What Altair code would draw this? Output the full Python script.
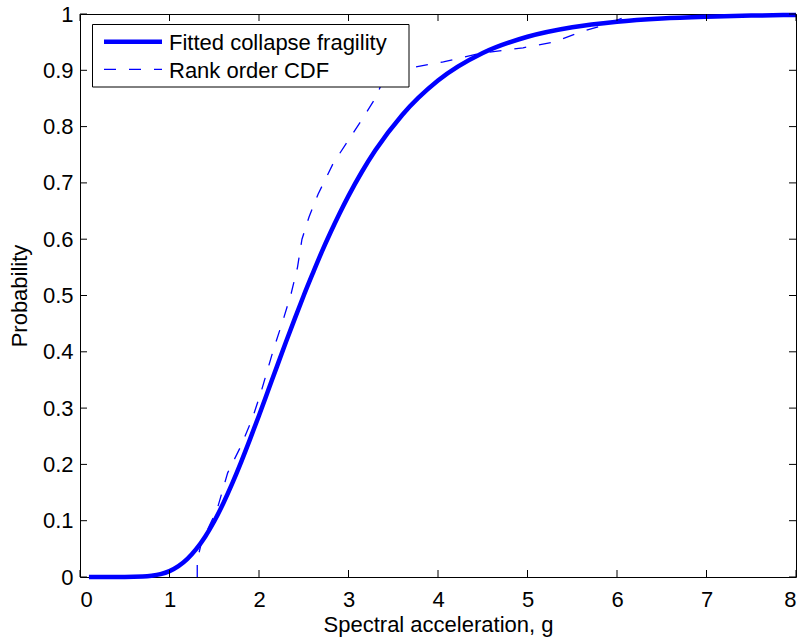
import altair as alt
import pandas as pd

# Fitted collapse fragility
fit_x = [0.1, 0.3, 0.5, 0.7, 0.8, 0.9, 1.0, 1.1, 1.2, 1.3, 1.4, 1.5, 1.6, 1.7, 1.8, 1.9,
         2.0, 2.1, 2.2, 2.3, 2.4, 2.5, 2.6, 2.7, 2.8, 2.9, 3.0, 3.15, 3.3, 3.6, 4.0, 4.5,
         5.0, 5.5, 6.0, 6.5, 7.0, 7.5, 8.0]
fit_y = [0.0, 0.0, 0.0, 0.0007, 0.0021, 0.005, 0.0105, 0.0193, 0.0322, 0.0498, 0.0721, 0.0991,
         0.1305, 0.1657, 0.204, 0.2448, 0.287, 0.3303, 0.3737, 0.4168, 0.459, 0.5, 0.539,
         0.577, 0.6123, 0.6457, 0.677, 0.7198, 0.7578, 0.8207, 0.8818, 0.9307, 0.9596, 0.9765,
         0.9863, 0.992, 0.9952, 0.9972, 0.9983]

# Rank order CDF
cdf_x = [1.31, 1.31, 1.36, 1.53, 1.65, 1.79, 1.92, 2.02, 2.16, 2.28, 2.36, 2.43, 2.48, 2.56,
         2.66, 2.83, 3.00, 3.16, 3.31, 3.43, 3.72, 4.06, 4.47, 4.95, 5.29, 5.59, 5.85, 6.18]
cdf_y = [0.0, 0.03, 0.063, 0.119, 0.185, 0.23, 0.279, 0.327, 0.403, 0.462, 0.504, 0.55, 0.60,
         0.64, 0.68, 0.735, 0.776, 0.815, 0.853, 0.90, 0.905, 0.915, 0.93, 0.94, 0.95, 0.968,
         0.98, 1.0]

x_ticks = [0, 1, 2, 3, 4, 5, 6, 7, 8]
y_ticks = [0, 0.1, 0.2, 0.3, 0.4, 0.5, 0.6, 0.7, 0.8, 0.9, 1.0]
legend_labels = ["Fitted collapse fragility", "Rank order CDF"]

W, H = 716, 563
BLUE = "#0000ff"
FONT = "Liberation Sans"
FS = 22

xs = alt.Scale(domain=[0, 8], nice=False, zero=False)
ys = alt.Scale(domain=[0, 1], nice=False)

fit_df = pd.DataFrame({"x": fit_x, "y": fit_y})
cdf_df = pd.DataFrame({"x": cdf_x, "y": cdf_y, "i": list(range(len(cdf_x)))})
xt_df = pd.DataFrame({"v": x_ticks})
yt_df = pd.DataFrame({"v": y_ticks})

axis_style = dict(ticks=False, domain=False, grid=False,
                  labelFont=FONT, labelFontSize=FS, labelColor="black",
                  titleFont=FONT, titleFontSize=FS, titleColor="black", titleFontWeight="normal")
x_axis = alt.Axis(values=x_ticks, format="d", labelPadding=12,
                  title="Spectral acceleration, g", titlePadding=4, **axis_style)
y_axis = alt.Axis(values=y_ticks, format=".1~f", labelPadding=7,
                  title="Probability", titlePadding=11, **axis_style)

fit_line = alt.Chart(fit_df).mark_line(color=BLUE, strokeWidth=4.5, interpolate="monotone").encode(
    x=alt.X("x:Q", scale=xs, axis=x_axis),
    y=alt.Y("y:Q", scale=ys, axis=y_axis),
)

cdf_line = alt.Chart(cdf_df).mark_line(color=BLUE, strokeWidth=1.3, strokeDash=[12, 13]).encode(
    x=alt.X("x:Q", scale=xs),
    y=alt.Y("y:Q", scale=ys),
    order="i:Q",
)

TL = 7
tick_style = dict(color="black", strokeWidth=1)
bottom_ticks = alt.Chart(xt_df).mark_rule(**tick_style).encode(
    x=alt.X("v:Q", scale=xs), y=alt.value(H), y2=alt.value(H - TL))
top_ticks = alt.Chart(xt_df).mark_rule(**tick_style).encode(
    x=alt.X("v:Q", scale=xs), y=alt.value(0), y2=alt.value(TL))
left_ticks = alt.Chart(yt_df).mark_rule(**tick_style).encode(
    y=alt.Y("v:Q", scale=ys), x=alt.value(0), x2=alt.value(TL))
right_ticks = alt.Chart(yt_df).mark_rule(**tick_style).encode(
    y=alt.Y("v:Q", scale=ys), x=alt.value(W), x2=alt.value(W - TL))

one = pd.DataFrame({"k": [0]})
leg_box = alt.Chart(one).mark_rect(fill="white", stroke="black", strokeWidth=1).encode(
    x=alt.value(12.5), x2=alt.value(329), y=alt.value(10.5), y2=alt.value(73))
leg_l1 = alt.Chart(one).mark_rule(color=BLUE, strokeWidth=4.5).encode(
    x=alt.value(24), x2=alt.value(82), y=alt.value(27.7))
leg_l2 = alt.Chart(one).mark_rule(color=BLUE, strokeWidth=1.3, strokeDash=[12, 13]).encode(
    x=alt.value(24), x2=alt.value(82), y=alt.value(55.3))
leg_t1 = alt.Chart(pd.DataFrame({"t": [legend_labels[0]]})).mark_text(
    align="left", baseline="alphabetic", font=FONT, fontSize=FS, color="black").encode(
    x=alt.value(89), y=alt.value(35.5), text="t:N")
leg_t2 = alt.Chart(pd.DataFrame({"t": [legend_labels[1]]})).mark_text(
    align="left", baseline="alphabetic", font=FONT, fontSize=FS, color="black").encode(
    x=alt.value(89), y=alt.value(64), text="t:N")

chart = alt.layer(
    fit_line, cdf_line, bottom_ticks, top_ticks, left_ticks, right_ticks,
    leg_box, leg_l1, leg_l2, leg_t1, leg_t2,
).properties(
    width=W, height=H,
    background="white",
    autosize=alt.AutoSizeParams(type="none"),
    padding={"left": 80, "top": 14, "right": 7, "bottom": 66},
).configure_view(
    stroke="black", strokeWidth=1
)

chart.save("out.html", embed_options={"renderer": "svg", "actions": False})
